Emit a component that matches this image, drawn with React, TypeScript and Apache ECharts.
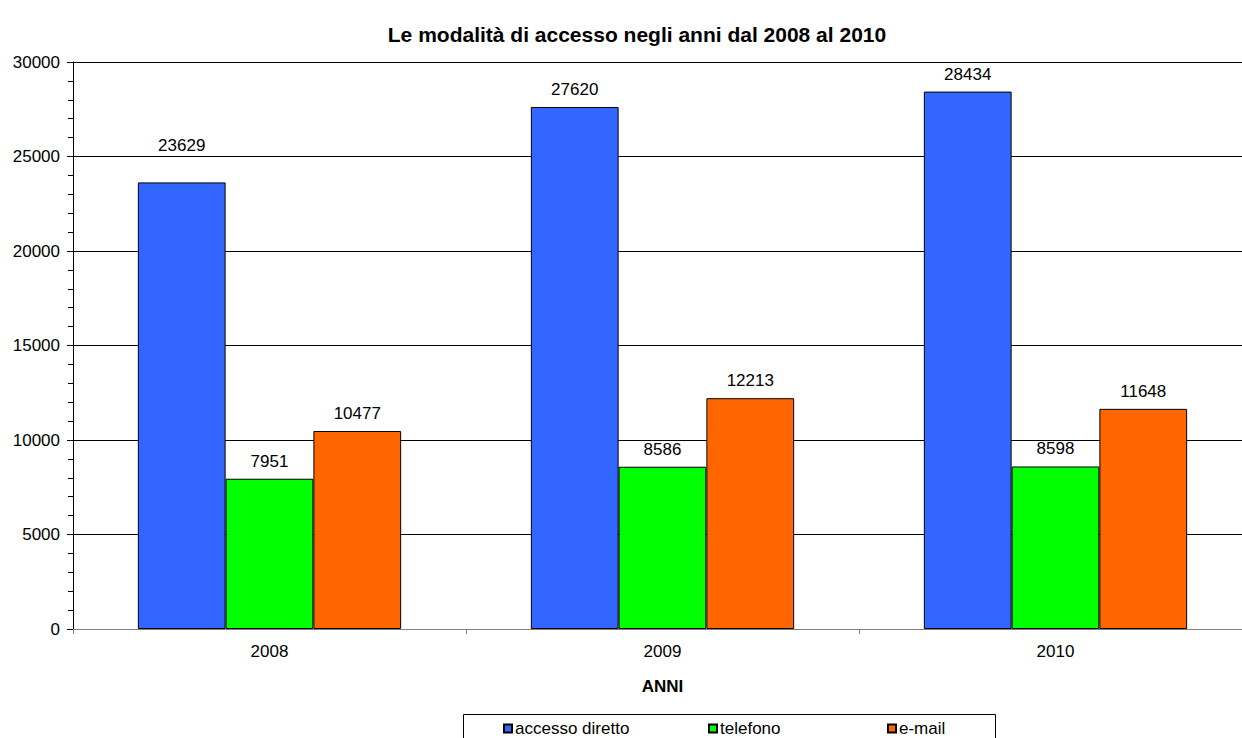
import React, { useEffect, useRef } from "react";
import * as echarts from "echarts";

const categories = ["2008", "2009", "2010"];
const accessoDiretto = [23629, 27620, 28434];
const telefono = [7951, 8586, 8598];
const email = [10477, 12213, 11648];
const seriesNames = ["accesso diretto", "telefono", "e-mail"];
const colors = ["#3366FF", "#00FF00", "#FF6600"];

const FONT = "'Liberation Sans', Arial, sans-serif";

export default function App() {
  const ref = useRef<HTMLDivElement>(null);
  useEffect(() => {
    if (!ref.current) return;
    const chart = echarts.init(ref.current, null, { renderer: "svg" });
    const dataSets = [accessoDiretto, telefono, email];
    const series = dataSets.map((d, i) => ({
      name: seriesNames[i],
      type: "bar",
      barGap: "0%",
      barCategoryGap: "33%",
      data: d.map((v, j) =>
        i === 0 && j === 0
          ? { value: v, label: { offset: [0, -19] } }
          : v
      ),
      itemStyle: { color: colors[i], borderColor: "#000", borderWidth: 1 },
      label: {
        show: true,
        position: "top",
        distance: 9,
        color: "#000",
        fontSize: 17,
        fontFamily: FONT,
      },
    }));
    const legendLefts = [503, 708, 887];
    chart.setOption({
      animation: false,
      backgroundColor: "#fff",
      textStyle: { fontFamily: FONT },
      title: {
        text: "Le modalità di accesso negli anni dal 2008 al 2010",
        left: 632,
        textAlign: "center",
        top: 19,
        textStyle: { fontSize: 21, fontWeight: "bold", color: "#000", fontFamily: FONT },
      },
      legend: seriesNames.map((n, i) => ({
        data: [n],
        left: legendLefts[i],
        top: 720,
        padding: 0,
        itemWidth: 8,
        itemHeight: 8,
        icon: "rect",
        itemGap: 0,
        selectedMode: false,
        textStyle: { fontSize: 17, color: "#000", fontFamily: FONT, padding: [0, 0, 0, -2] },
      })),
      graphic: [
        {
          type: "rect",
          shape: { x: 463.5, y: 714.5, width: 532, height: 40 },
          style: { fill: "none", stroke: "#000", lineWidth: 1 },
        },
      ],
      grid: { left: 73, top: 62, right: 0, bottom: 109, containLabel: false },
      xAxis: {
        type: "category",
        data: categories,
        name: "ANNI",
        nameLocation: "middle",
        nameGap: 49,
        nameTextStyle: { fontSize: 17, fontWeight: "bold", color: "#000", fontFamily: FONT },
        axisLine: { lineStyle: { color: "#808080", width: 1 } },
        axisTick: { show: true, length: 5, alignWithLabel: false, lineStyle: { color: "#808080" } },
        axisLabel: { fontSize: 17, color: "#000", margin: 14, fontFamily: FONT },
      },
      yAxis: {
        type: "value",
        min: 0,
        max: 30000,
        interval: 5000,
        axisLine: { show: true, lineStyle: { color: "#000", width: 1 } },
        axisTick: { show: true, length: 6, lineStyle: { color: "#000" } },
        minorTick: { show: true, splitNumber: 5, length: 5, lineStyle: { color: "#000" } },
        axisLabel: {
          fontSize: 17,
          color: "#000",
          margin: 13,
          fontFamily: FONT,
          formatter: (v: number) => String(v),
        },
        splitLine: { show: true, lineStyle: { color: "#000", width: 1 } },
      },
      series,
    });
    return () => chart.dispose();
  }, []);
  return (
    <div
      style={{
        position: "absolute",
        left: 0,
        top: 0,
        width: 1242,
        height: 738,
        overflow: "hidden",
      }}
    >
      <div ref={ref} style={{ width: 1252, height: 738 }} />
    </div>
  );
}
